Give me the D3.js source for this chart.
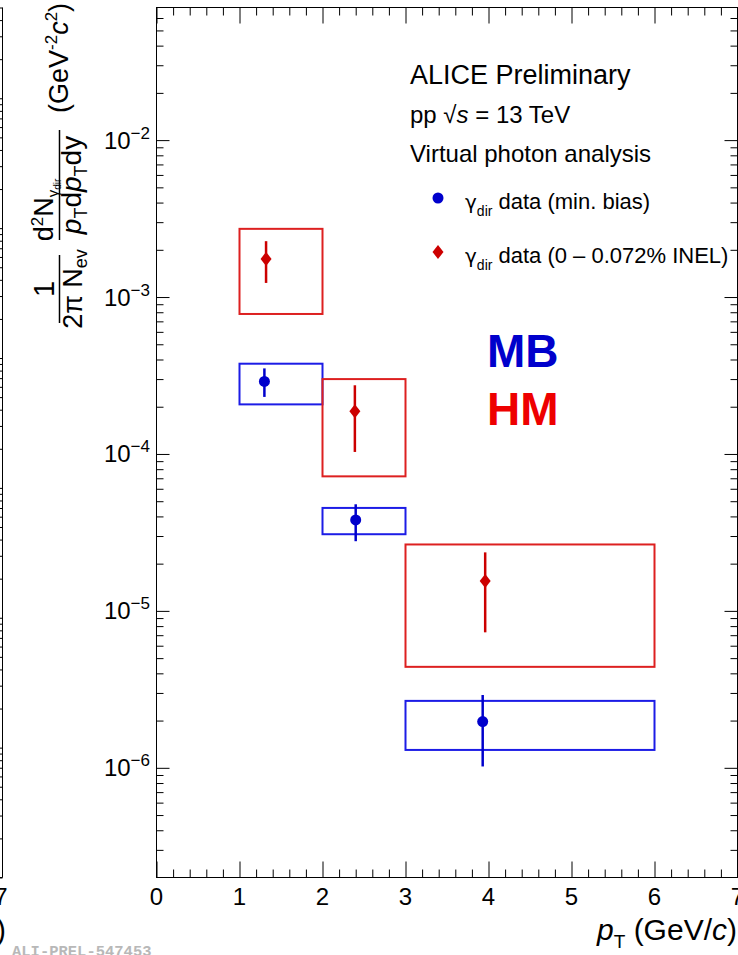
<!DOCTYPE html>
<html>
<head>
<meta charset="utf-8">
<script src="https://cdn.jsdelivr.net/npm/d3@7"></script>
<style>
body { margin: 0; background: #fff; }
svg { display: block; font-family: "Liberation Sans", Arial, sans-serif; }
</style>
</head>
<body>
<script>
// pT bins (GeV/c), shared by both data sets
var binLow = [1, 2, 3];
var binHigh = [2, 3, 6];

// min. bias
var mbPt = [1.3, 2.4, 3.93];
var mbVal = [2.9e-4, 3.8e-5, 1.97e-6];
var mbStatLow = [2.31e-4, 2.78e-5, 1.02e-6];
var mbStatHigh = [3.51e-4, 4.78e-5, 2.91e-6];
var mbSysLow = [2.07e-4, 3.08e-5, 1.30e-6];
var mbSysHigh = [3.76e-4, 4.53e-5, 2.67e-6];

// high multiplicity (0 - 0.072% INEL)
var hmPt = [1.32, 2.39, 3.96];
var hmVal = [1.75e-3, 1.87e-4, 1.55e-5];
var hmStatLow = [1.23e-3, 1.03e-4, 7.3e-6];
var hmStatHigh = [2.27e-3, 2.74e-4, 2.36e-5];
var hmSysLow = [7.8e-4, 7.2e-5, 4.4e-6];
var hmSysHigh = [2.72e-3, 3.0e-4, 2.65e-5];

var xTicks = [0, 1, 2, 3, 4, 5, 6, 7];
var yExponents = [-2, -3, -4, -5, -6];

var width = 738, height = 955;
var frameL = 156.5, frameR = 737.5, frameT = 7.5, frameB = 877.5;

var svg = d3.select("body").append("svg")
    .attr("width", width)
    .attr("height", height);

var x = d3.scaleLinear().domain([0, 7]).range([frameL, frameR]);
var y = d3.scaleLog().domain([2e-7, 7e-2]).range([frameB, frameT]);

// minor ticks
var xMinor = d3.range(0, 7.001, 0.2).map(function (d) { return Math.round(d * 10) / 10; })
    .filter(function (d) { return !xTicks.includes(d); });
var yMajor = yExponents.map(function (e) { return Math.pow(10, e); });
var yMinor = [];
for (var e = -7; e <= -2; e++) {
    for (var m = 2; m <= 9; m++) {
        var v = m * Math.pow(10, e);
        if (v > 2.0001e-7 && v < 6.999e-2) yMinor.push(v);
    }
}

function tickAxis(axisFn, scale, values, size, tx, ty) {
    var g = svg.append("g")
        .attr("transform", "translate(" + tx + "," + ty + ")")
        .call(axisFn(scale).tickValues(values).tickSize(size).tickFormat(""));
    g.select(".domain").remove();
    g.selectAll("line").attr("stroke", "#000").attr("stroke-width", 1);
}

tickAxis(d3.axisLeft, y, yMajor, -13, frameL, 0);
tickAxis(d3.axisLeft, y, yMinor, -7, frameL, 0);
tickAxis(d3.axisRight, y, yMajor, -13, frameR, 0);
tickAxis(d3.axisRight, y, yMinor, -7, frameR, 0);
tickAxis(d3.axisBottom, x, xTicks, -16, 0, frameB);
tickAxis(d3.axisBottom, x, xMinor, -8, 0, frameB);
tickAxis(d3.axisTop, x, xTicks, -16, 0, frameT);
tickAxis(d3.axisTop, x, xMinor, -8, 0, frameT);

// frame
svg.append("rect")
    .attr("x", frameL).attr("y", frameT)
    .attr("width", frameR - frameL).attr("height", frameB - frameT)
    .attr("fill", "none").attr("stroke", "#000").attr("stroke-width", 1);

// remnant of the neighbouring panel on the left
var yLeft = d3.scaleLog().domain([1e-7, 0.5]).range([frameB, frameT]);
svg.append("line").attr("x1", 2.5).attr("x2", 2.5).attr("y1", frameT).attr("y2", frameB)
    .attr("stroke", "#000");
svg.append("line").attr("x1", 0).attr("x2", 2.5).attr("y1", frameB).attr("y2", frameB)
    .attr("stroke", "#000");
tickAxis(d3.axisRight, yLeft, yLeft.ticks(), -13, 2.5, 0);
svg.append("text").attr("x", 1).attr("y", 905).attr("text-anchor", "middle")
    .attr("font-size", 24).text("7");
svg.append("text").attr("x", 6).attr("y", 940).attr("text-anchor", "end")
    .attr("font-size", 29).text(")");

// tick labels
svg.selectAll(".xlab").data(xTicks).enter().append("text")
    .attr("class", "xlab")
    .attr("x", function (d) { return x(d); })
    .attr("y", 905)
    .attr("text-anchor", "middle")
    .attr("font-size", 24)
    .text(function (d) { return d; });

var ylab = svg.selectAll(".ylab").data(yExponents).enter().append("text")
    .attr("class", "ylab")
    .attr("x", 150)
    .attr("y", function (d) { return y(Math.pow(10, d)) + 8.5; })
    .attr("text-anchor", "end")
    .attr("font-size", 24);
ylab.append("tspan").text("10");
ylab.append("tspan").attr("dy", -10).attr("font-size", 17)
    .text(function (d) { return "\u2212" + (-d); });

// axis titles
var xt = svg.append("text").attr("x", 737).attr("y", 940)
    .attr("text-anchor", "end").attr("font-size", 30);
xt.append("tspan").attr("font-style", "italic").text("p");
xt.append("tspan").attr("font-size", 19).attr("dy", 8).text("T");
xt.append("tspan").attr("dy", -8).text(" (GeV/");
xt.append("tspan").attr("font-style", "italic").text("c");
xt.append("tspan").text(")");

var yt = svg.append("g").attr("transform", "rotate(-90)").attr("font-size", 27);
// 1 / (2 pi N_ev)
yt.append("text").attr("x", -289).attr("y", 54).attr("text-anchor", "middle")
    .attr("font-size", 29).text("1");
yt.append("line").attr("x1", -323).attr("x2", -255).attr("y1", 59.5).attr("y2", 59.5)
    .attr("stroke", "#000").attr("stroke-width", 1.5);
var den1 = yt.append("text").attr("x", -289).attr("y", 82).attr("text-anchor", "middle");
den1.append("tspan").text("2\u03c0 N");
den1.append("tspan").attr("font-size", 18).attr("dy", 5).text("ev");
// d2N / (pT dpT dy)
var num2 = yt.append("text").attr("x", -210).attr("y", 53).attr("text-anchor", "middle");
num2.append("tspan").text("d");
num2.append("tspan").attr("font-size", 17).attr("dy", -10).text("2");
num2.append("tspan").attr("dy", 10).text("N");
num2.append("tspan").attr("font-size", 15).attr("dy", 5).text("\u03b3");
num2.append("tspan").attr("font-size", 10).attr("dy", 3).text("dir");
yt.append("line").attr("x1", -240).attr("x2", -130).attr("y1", 59.5).attr("y2", 59.5)
    .attr("stroke", "#000").attr("stroke-width", 1.5);
var den2 = yt.append("text").attr("x", -185).attr("y", 81).attr("text-anchor", "middle")
    .attr("font-size", 28);
den2.append("tspan").attr("font-style", "italic").text("p");
den2.append("tspan").attr("font-size", 18).attr("dy", 6).text("T");
den2.append("tspan").attr("dy", -6).text("d");
den2.append("tspan").attr("font-style", "italic").text("p");
den2.append("tspan").attr("font-size", 18).attr("dy", 6).text("T");
den2.append("tspan").attr("dy", -6).text("dy");
// units
var unit = yt.append("text").attr("x", -113).attr("y", 68);
unit.append("tspan").text("(GeV");
unit.append("tspan").attr("font-size", 17).attr("dy", -11).text("-2");
unit.append("tspan").attr("dy", 11).attr("font-style", "italic").text("c");
unit.append("tspan").attr("font-size", 17).attr("dy", -11).text("2");
unit.append("tspan").attr("dy", 11).text(")");

// data series
var series = [
    { pt: mbPt, val: mbVal, sl: mbStatLow, sh: mbStatHigh, yl: mbSysLow, yh: mbSysHigh,
      box: "#1c1ce6", mark: "#0000cc", shape: "circle" },
    { pt: hmPt, val: hmVal, sl: hmStatLow, sh: hmStatHigh, yl: hmSysLow, yh: hmSysHigh,
      box: "#dd2020", mark: "#cc0000", shape: "diamond" }
];

function marker(g, shape, color, cx, cy) {
    if (shape === "circle") {
        g.append("circle").attr("cx", cx).attr("cy", cy).attr("r", 5.5).attr("fill", color);
    } else {
        g.append("path")
            .attr("d", "M" + cx + "," + (cy - 7) + "L" + (cx + 5.5) + "," + cy + "L" + cx + "," + (cy + 7) + "L" + (cx - 5.5) + "," + cy + "Z")
            .attr("fill", color);
    }
}

series.forEach(function (s) {
    var g = svg.append("g");
    binLow.forEach(function (b, i) {
        g.append("rect")
            .attr("x", x(binLow[i])).attr("width", x(binHigh[i]) - x(binLow[i]))
            .attr("y", y(s.yh[i])).attr("height", y(s.yl[i]) - y(s.yh[i]))
            .attr("fill", "none").attr("stroke", s.box).attr("stroke-width", 2);
    });
    s.pt.forEach(function (p, i) {
        g.append("line")
            .attr("x1", x(p)).attr("x2", x(p))
            .attr("y1", y(s.sh[i])).attr("y2", y(s.sl[i]))
            .attr("stroke", s.mark).attr("stroke-width", 2.5);
        marker(g, s.shape, s.mark, x(p), y(s.val[i]));
    });
});

// header text and legend
svg.append("text").attr("x", 410).attr("y", 84).attr("font-size", 27).text("ALICE Preliminary");
var pp = svg.append("text").attr("x", 410).attr("y", 123).attr("font-size", 24);
pp.append("tspan").text("pp \u221a");
pp.append("tspan").attr("font-style", "italic").text("s");
pp.append("tspan").text(" = 13 TeV");
svg.append("text").attr("x", 410).attr("y", 162).attr("font-size", 24).text("Virtual photon analysis");

var legendItems = [
    { label: " data (min. bias)", shape: "circle", color: "#0000cc", y: 198 },
    { label: " data (0 \u2013 0.072% INEL)", shape: "diamond", color: "#cc0000", y: 252 }
];
legendItems.forEach(function (d) {
    marker(svg, d.shape, d.color, 438, d.y);
    var t = svg.append("text").attr("x", 465).attr("y", d.y + 11).attr("font-size", 22);
    t.append("tspan").attr("font-family", "DejaVu Sans").attr("font-size", 20).text("\u03b3");
    t.append("tspan").attr("font-size", 14).attr("dy", 7).text("dir");
    t.append("tspan").attr("dy", -7).text(d.label);
});

svg.append("text").attr("x", 487).attr("y", 367).attr("font-size", 46)
    .attr("font-weight", "bold").attr("fill", "#0000cc").text("MB");
svg.append("text").attr("x", 487).attr("y", 425).attr("font-size", 46)
    .attr("font-weight", "bold").attr("fill", "#ee0000").text("HM");

svg.append("text").attr("x", 12).attr("y", 956).attr("font-size", 15.5)
    .attr("font-family", "Liberation Mono, monospace").attr("font-weight", "bold")
    .attr("fill", "#b8b8b8")
    .text("ALI-PREL-547453");
</script>
</body>
</html>
